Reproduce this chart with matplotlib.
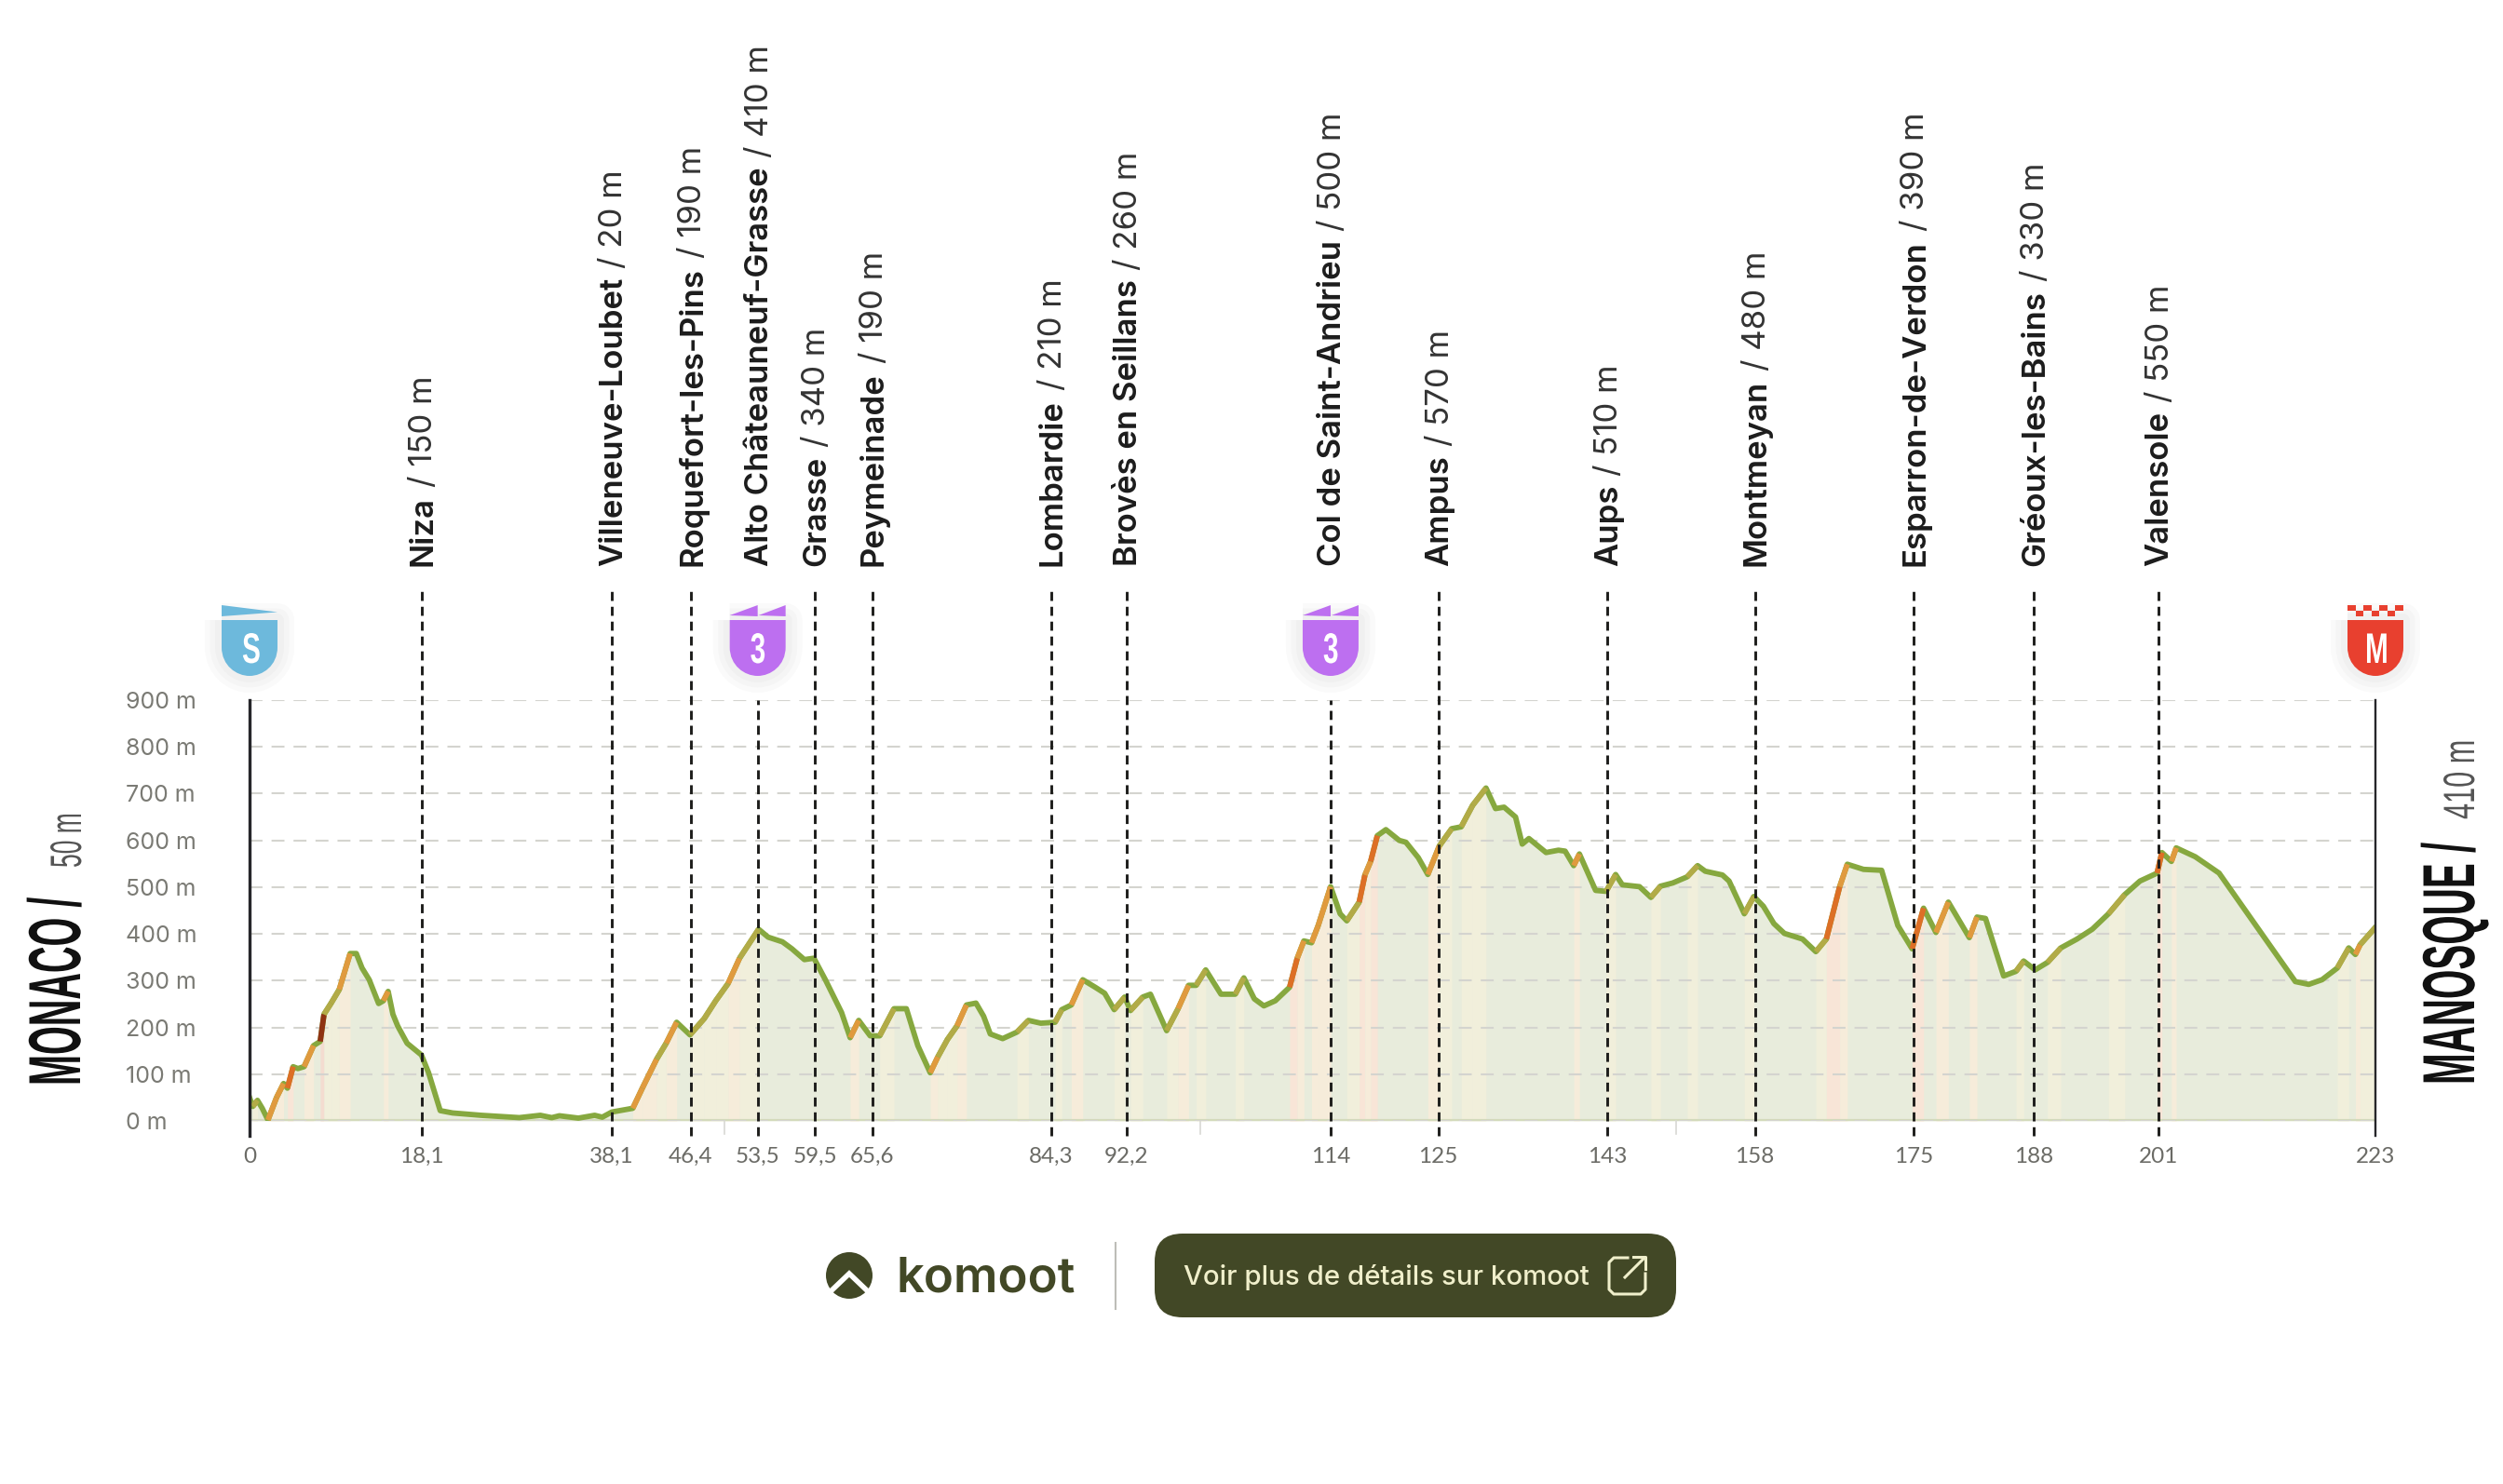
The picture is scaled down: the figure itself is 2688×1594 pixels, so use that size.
import matplotlib
matplotlib.use("Agg")
import matplotlib.pyplot as plt
import matplotlib.patheffects as pe
from matplotlib.patches import FancyBboxPatch, PathPatch, Circle, Polygon, Rectangle
from matplotlib.path import Path
from matplotlib.transforms import Affine2D

# ── Profile (km, m) ───────────────────────────────────────────────────────────
profile_km = [0, 0.34, 0.83, 1.33, 1.93, 2.83, 3.57, 3.97, 4.57, 5.07, 5.72, 6.71, 7.41, 7.81, 8.56, 9.41,
              10.55, 11.2, 11.8, 12.55, 13.54, 14.04, 14.54, 15.04, 15.54, 16.53, 18.03, 18.78, 20.0, 21.3,
              24.3, 28.3, 30.5, 31.7, 32.5, 34.5, 36.2, 37.0, 38.0, 40.2, 41.2, 42.7, 43.7, 44.8, 46.2,
              47.7, 48.9, 50.2, 51.4, 53.4, 54.4, 55.9, 56.9, 58.2, 59.2, 60.4, 62.1, 63.0, 63.9, 65.1,
              66.1, 67.6, 68.9, 70.1, 71.4, 72.2, 73.2, 74.2, 75.2, 76.2, 77, 77.7, 79, 80.5, 81.7, 83,
              84.5, 85.2, 86.2, 87.4, 88.7, 89.7, 90.7, 91.8, 92.4, 93.7, 94.5, 96.2, 97.4, 98.5, 99.3,
              100.3, 101.9, 103.4, 104.3, 105.4, 106.4, 107.6, 109.1, 109.9, 110.6, 111.4, 112.1, 113.4,
              114.4, 115.1, 116.4, 117, 117.6, 118.3, 119.2, 120.6, 121.3, 122.6, 123.6, 124.8, 126.1,
              127.1, 128.3, 129.7, 130.7, 131.6, 132.8, 133.5, 134.2, 136, 137.3, 138, 138.9, 139.5,
              141.2, 142.3, 143.3, 144, 145.8, 147, 148, 149.3, 150.8, 151.9, 152.7, 154.5, 155.2, 156.8,
              157.8, 158.8, 159.9, 161, 162.9, 164.3, 165.4, 166.8, 167.6, 169.3, 171.2, 172.9, 174.4,
              175.6, 176.9, 178.2, 180.4, 181.2, 182.1, 184, 185.3, 186.1, 187.3, 188.6, 190, 191.7,
              193.3, 195, 196.7, 198.3, 200.1, 200.6, 201.6, 202.1, 204.1, 206.6, 214.6, 216, 217.4, 219,
              220.2, 220.9, 221.4, 223]
profile_m = [50, 31, 44, 27, 2, 50, 80, 70, 116, 112, 116, 161, 170, 228, 252, 281,
             358, 358, 327, 302, 251, 257, 277, 228, 203, 166, 141, 103, 22, 17,
             12, 7, 12, 7, 11, 6, 12, 8, 19, 27, 70, 132, 166, 211, 184,
             219, 257, 294, 348, 410, 393, 383, 368, 345, 348, 302, 232, 178, 215, 182,
             182, 240, 240, 161, 103, 137, 174, 203, 248, 252, 224, 186, 176, 190, 215, 209,
             211, 238, 248, 302, 286, 273, 238, 265, 236, 265, 271, 193, 240, 290, 290,
             323, 271, 271, 306, 261, 246, 257, 286, 348, 385, 381, 418, 501,
             443, 428, 468, 526, 555, 610, 623, 600, 596, 563, 527, 588, 625,
             629, 675, 712, 668, 671, 650, 592, 604, 574, 579, 577, 546, 571,
             493, 491, 527, 505, 501, 478, 502, 509, 522, 546, 534, 526, 513, 443,
             480, 459, 422, 401, 389, 362, 389, 501, 549, 538, 536, 418, 368,
             455, 403, 468, 392, 436, 433, 310, 320, 342, 323, 339, 370, 389,
             410, 443, 484, 513, 530, 574, 555, 584, 565, 530, 298, 292, 302, 327,
             370, 356, 377, 414]

pass_km = [18.03, 38.0, 46.3, 53.3, 59.3, 65.3, 84.1, 92.0, 113.4, 124.7, 142.4, 157.9, 174.6, 187.2, 200.2]
pass_ticks = ["18,1", "38,1", "46,4", "53,5", "59,5", "65,6", "84,3", "92,2", "114", "125", "143", "158", "175",
              "188", "201"]
pass_names = ["Niza", "Villeneuve-Loubet", "Roquefort-les-Pins", "Alto Châteauneuf-Grasse", "Grasse", "Peymeinade",
              "Lombardie", "Brovès en Seillans", "Col de Saint-Andrieu", "Ampus", "Aups", "Montmeyan",
              "Esparron-de-Verdon", "Gréoux-les-Bains", "Valensole"]
pass_alts = ["/ 150 m", "/ 20 m", "/ 190 m", "/ 410 m", "/ 340 m", "/ 190 m", "/ 210 m", "/ 260 m", "/ 500 m",
             "/ 570 m", "/ 510 m", "/ 480 m", "/ 390 m", "/ 330 m", "/ 550 m"]
climb_km = [53.3, 113.4]
y_ticks = [0, 100, 200, 300, 400, 500, 600, 700, 800, 900]
minor_km = [49.8, 99.7, 149.6]

# grade limits in m/km and the colours they map to
grade_limits = [20, 40, 70, 120]
line_colors = ["#b2ab47", "#e09a3e", "#dd6f26", "#8f3312"]
band_colors = ["#f1efdb", "#f6ecda", "#f8e5d7", "#f4dcd0"]
GREEN = "#86a83f"
OLIVE = "#424826"
W, H = 2688, 1594

plt.rcParams["font.family"] = ["Inter", "Lato", "DejaVu Sans"]
plt.rcParams["lines.scale_dashes"] = False


class Squeeze(pe.AbstractPathEffect):
    # no condensed display face installed, so narrow the text along its run
    def __init__(self, sx):
        super().__init__()
        self.sx = sx

    def draw_path(self, renderer, gc, tpath, affine, rgbFace=None):
        renderer.draw_path(gc, tpath, Affine2D().scale(self.sx, 1) + affine, rgbFace)


fig = plt.figure(figsize=(W / 100, H / 100), dpi=100, facecolor="white")
ax = fig.add_axes([268 / W, 1 - 1204 / H, (2551 - 268) / W, (1204 - 752) / H])
pix = fig.add_axes([0, 0, 1, 1], zorder=5)
pix.set_xlim(0, W)
pix.set_ylim(H, 0)
pix.axis("off")
pix.patch.set_alpha(0)


# ── Elevation chart ───────────────────────────────────────────────────────────
def grade_class(i):
    grade = (profile_m[i + 1] - profile_m[i]) / (profile_km[i + 1] - profile_km[i])
    return sum(grade >= limit for limit in grade_limits) - 1


ax.set_xlim(0, 223)
ax.set_ylim(0, 900)
for spine in ax.spines.values():
    spine.set_visible(False)

ax.fill_between(profile_km, profile_m, 0, color="#e8ecdc", lw=0, zorder=1)
for i in range(len(profile_km) - 1):
    c = grade_class(i)
    if c >= 0:
        ax.fill_between(profile_km[i:i + 2], profile_m[i:i + 2], 0, color=band_colors[c], lw=0, zorder=1.2)

ax.set_yticks(y_ticks)
ax.set_yticklabels([f"{v} m" for v in y_ticks], ha="left", color="#7a7a74", fontsize=18)
ax.tick_params(axis="y", length=0, pad=96)
ax.grid(axis="y", color="#d4d4cf", lw=1.5, linestyle=(0, (10, 7)), zorder=1.5)
ax.set_axisbelow(False)

ax.set_xticks([0] + pass_km + [223])
ax.set_xticklabels(["0"] + pass_ticks + ["223"], color="#6b6b66", fontsize=17.5, family=["Lato", "DejaVu Sans"])
ax.tick_params(axis="x", length=0, pad=20)

ax.axhline(0, color="#d3dabb", lw=3, zorder=2)
for km in minor_km:
    ax.plot([km, km], [0, -28], color="#d8d8d4", lw=1.2, clip_on=False, zorder=2)

ax.plot(profile_km, profile_m, color=GREEN, lw=4.2, solid_joinstyle="round", zorder=3)
for i in range(len(profile_km) - 1):
    c = grade_class(i)
    if c >= 0:
        ax.plot(profile_km[i:i + 2], profile_m[i:i + 2], color=line_colors[c], lw=4.2,
                solid_capstyle="butt", zorder=3.1)

for km in pass_km:
    top = 900 if km in climb_km else 1135
    ax.plot([km, km], [-32, top], color="#1d1d1b", lw=2.1, linestyle=(0, (7, 4.5)), clip_on=False, zorder=4)
ax.plot([0, 0], [-32, 900], color="#26262a", lw=2.4, clip_on=False, zorder=4)
ax.plot([223, 223], [-32, 900], color="#26262a", lw=1.7, clip_on=False, zorder=4)


def km_to_px(km):
    return 268 + km * (2551 - 268) / 223


# ── Pass labels ───────────────────────────────────────────────────────────────
renderer = fig.canvas.get_renderer()
for km, name, alt in zip(pass_km, pass_names, pass_alts):
    x = km_to_px(km) + 11
    t = pix.text(x, 608, name, rotation=90, rotation_mode="anchor", ha="left", va="baseline",
                 fontsize=25, fontweight="semibold", color="#1c1c1c")
    h = t.get_window_extent(renderer).height
    pix.text(x, 608 - h - 10, alt, rotation=90, rotation_mode="anchor", ha="left", va="baseline",
             fontsize=25, fontweight="normal", color="#333333")

# ── Start / finish titles ─────────────────────────────────────────────────────
narrow = ["Liberation Sans Narrow", "Liberation Sans", "DejaVu Sans"]
pix.text(86, 1166, "MONACO /", rotation=90, rotation_mode="anchor", ha="left", va="baseline", family=narrow,
         fontsize=57, fontweight="bold", color="#111111", path_effects=[Squeeze(0.5)])
pix.text(87, 932, "50 m", rotation=90, rotation_mode="anchor", ha="left", va="baseline", family=narrow,
         fontsize=34, color="#555555", path_effects=[Squeeze(0.56)])
pix.text(2657, 1165, "MANOSQUE /", rotation=90, rotation_mode="anchor", ha="left", va="baseline", family=narrow,
         fontsize=57, fontweight="bold", color="#111111", path_effects=[Squeeze(0.51)])
pix.text(2657, 880, "410 m", rotation=90, rotation_mode="anchor", ha="left", va="baseline", family=narrow,
         fontsize=34, color="#555555", path_effects=[Squeeze(0.65)])


# ── Badges ────────────────────────────────────────────────────────────────────
def draw_badge(cx, color, letter, kind):
    verts = [(cx - 30, 666), (cx + 30, 666), (cx + 30, 695), (cx + 30, 715), (cx + 14, 726), (cx, 726),
             (cx - 14, 726), (cx - 30, 715), (cx - 30, 695), (cx - 30, 666)]
    codes = [Path.MOVETO, Path.LINETO, Path.LINETO, Path.CURVE4, Path.CURVE4, Path.CURVE4,
             Path.CURVE4, Path.CURVE4, Path.CURVE4, Path.LINETO]
    shape = Path(verts, codes)
    for lw in (26, 18, 10):
        pix.add_patch(PathPatch(shape, facecolor="none", edgecolor="black", lw=lw, alpha=0.018, joinstyle="round"))
    pix.add_patch(PathPatch(shape, facecolor=color, edgecolor="none"))
    if kind == "start":
        pix.add_patch(Polygon([(cx - 30, 650), (cx + 30, 657.5), (cx - 30, 662)], facecolor=color, edgecolor="none"))
    elif kind == "climb":
        pix.add_patch(Polygon([(cx - 30, 661), (cx, 650), (cx, 662)], facecolor=color, edgecolor="none"))
        pix.add_patch(Polygon([(cx + 1, 661), (cx + 30, 650), (cx + 30, 662)], facecolor=color, edgecolor="none"))
    else:
        size = 60 / 7
        for col in range(7):
            row = col % 2
            pix.add_patch(Rectangle((cx - 30 + col * size, 650 + row * 6), size, 6, facecolor=color, edgecolor="none"))
    offset = 11 if letter == "M" else 8
    pix.text(cx - offset, 712, letter, ha="left", va="baseline", family=narrow, fontsize=33, fontweight="bold",
             color="white", path_effects=[Squeeze(0.65)])


draw_badge(km_to_px(0), "#6db9dc", "S", "start")
draw_badge(km_to_px(climb_km[0]), "#bd6ff0", "3", "climb")
draw_badge(km_to_px(climb_km[1]), "#bd6ff0", "3", "climb")
draw_badge(km_to_px(223), "#e8402f", "M", "finish")

# ── komoot footer ─────────────────────────────────────────────────────────────
pix.add_patch(Circle((912, 1370), 25, facecolor=OLIVE, edgecolor="none"))
pix.plot([890, 912, 934], [1389, 1368, 1389], color="white", lw=4, solid_joinstyle="miter")
pix.text(962, 1388, "komoot", ha="left", va="baseline", fontsize=38, fontweight="semibold", color=OLIVE)
pix.plot([1198, 1198], [1335, 1406], color="#bdbdb8", lw=1.5)
pix.add_patch(FancyBboxPatch((1240, 1325), 560, 90, boxstyle="round,pad=0,rounding_size=30",
                             facecolor=OLIVE, edgecolor="none"))
pix.text(1271, 1372, "Voir plus de détails sur komoot", ha="left", va="center", fontsize=21.2, fontweight="medium",
         color="#f0efcb")
pix.plot([1748, 1733, 1728, 1728, 1733, 1762, 1767, 1767], [1351, 1351, 1356, 1385, 1390, 1390, 1385, 1368],
         color="#f0efcb", lw=2.2, solid_joinstyle="round")
pix.plot([1745, 1766], [1372, 1351], color="#f0efcb", lw=2.2)
pix.plot([1754, 1767, 1767], [1350, 1350, 1363], color="#f0efcb", lw=2.2)

fig.savefig("out.png", dpi=100)
